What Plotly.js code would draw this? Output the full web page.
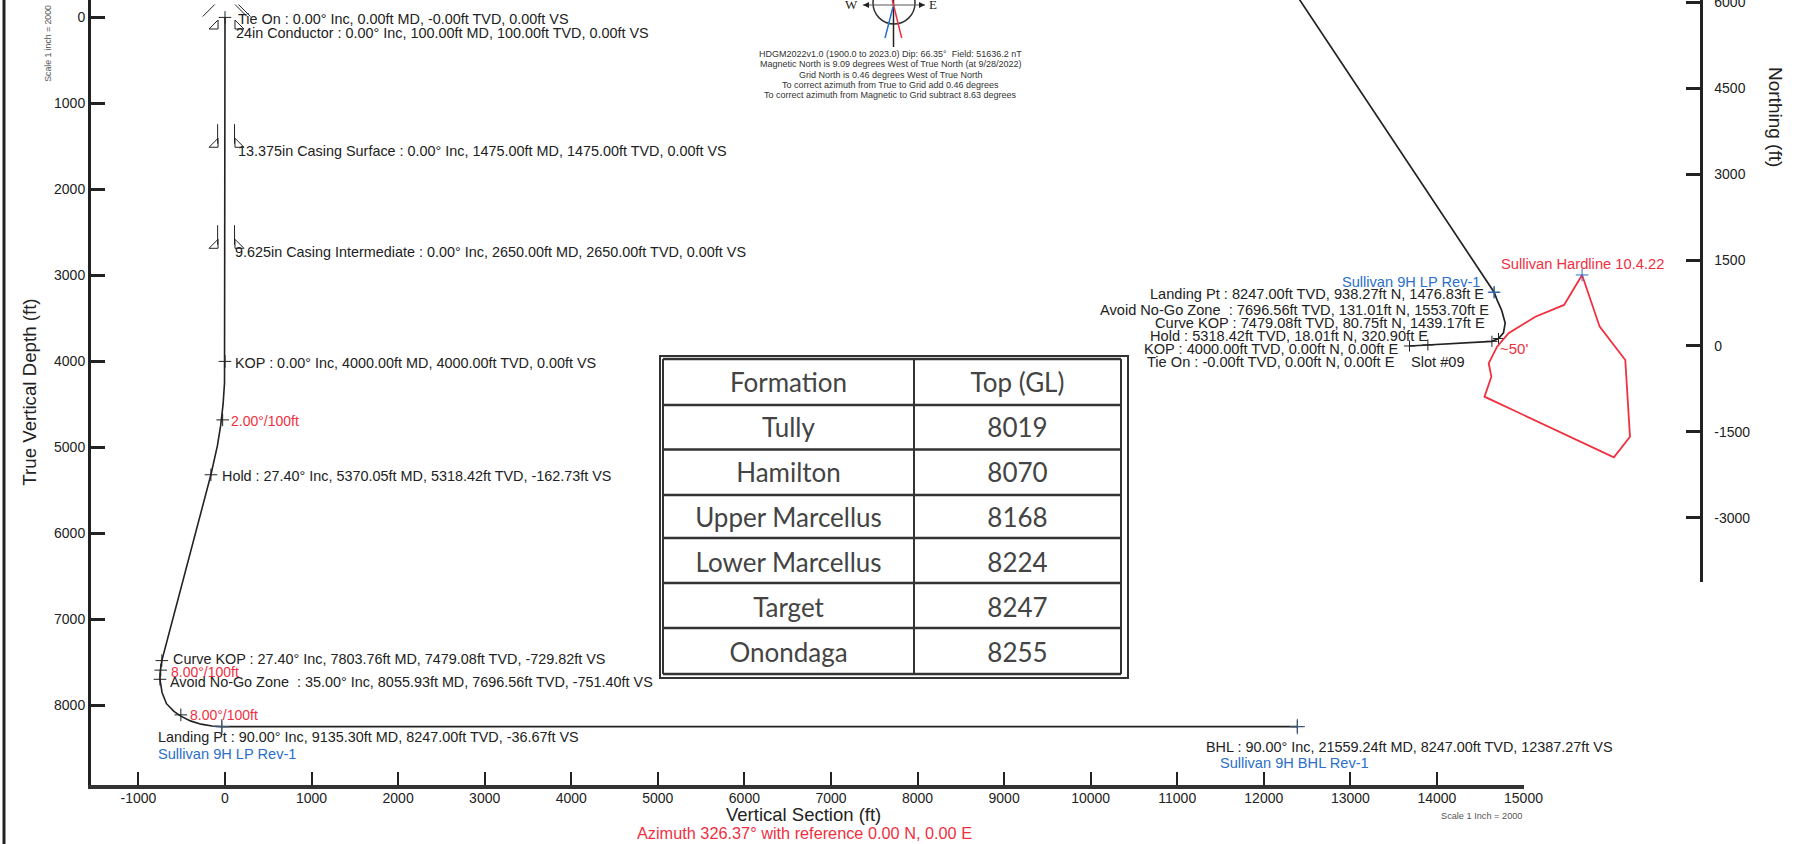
<!DOCTYPE html>
<html><head><meta charset="utf-8">
<script src="https://cdn.plot.ly/plotly-3.0.1.min.js"></script>
<style>html,body{margin:0;padding:0;background:#fff;overflow:hidden}#c{width:1801px;height:844px}</style>
</head><body><div id="c"></div>
<script>
// ---- Section view data (vertical section ft / TVD ft)
const pathVS  = [0,0,0,0,-5.5,-22,-49.4,-87.5,-162.73,-729.82,-748,-751.4,-727,-676,-590,-510,-400,-277,-150,-36.67,12387.27];
const pathTVD = [0,100,1475,2650,4250,4497.5,4741.5,4980,5318.42,7479.08,7600,7696.56,7850,7980,8070,8125,8180,8218,8240,8247,8247];
const stationVS  = [0,0,-162.73,-729.82,-751.4,-36.67,12387.27];
const stationTVD = [0,4000,5318.42,7479.08,7696.56,8247,8247];
const rateVS  = [-27,-742,-510];
const rateTVD = [4680,7590,8110];
const casingTVD = [1475,2650];
const conductorTVD = [100];
// ---- Plan view data (easting / northing ft)
const planE = [0,320.9,1439.17,1553.7,1640,1670,1610,1530,1476.83,-5403];
const planN = [0,18.01,80.75,131.01,230,400,620,800,938.27,11283];
const planStationE = [0,320.9,1439.17,1553.7,1476.83];
const planStationN = [0,18.01,80.75,131.01,938.27];
const hardE = [3012,3319,3766,3848,3567,1309,1429,1382,1529,1729,2197,2698,3012];
const hardN = [1239,337,-244,-1583,-1942,-885,-536,-302,-12,222,511,716,1239];
// ---- Axis ticks
const xTicks = [-1000,0,1000,2000,3000,4000,5000,6000,7000,8000,9000,10000,11000,12000,13000,14000,15000];
const yTicks = [0,1000,2000,3000,4000,5000,6000,7000,8000];
const nTicks = [-3000,-1500,0,1500,3000,4500,6000];
// ---- Formation table
const formations = ['Tully','Hamilton','Upper Marcellus','Lower Marcellus','Target','Onondaga'];
const formationTops = [8019,8070,8168,8224,8247,8255];
// ---- Labels
const sectionLabels = [
 ['Tie On : 0.00° Inc, 0.00ft MD, -0.00ft TVD, 0.00ft VS',0,0,11.5,-1.6],
 ['24in Conductor : 0.00° Inc, 100.00ft MD, 100.00ft TVD, 0.00ft VS',0,100,10.4,-6.7],
 ['13.375in Casing Surface : 0.00° Inc, 1475.00ft MD, 1475.00ft TVD, 0.00ft VS',0,1475,12,-6.8],
 ['9.625in Casing Intermediate : 0.00° Inc, 2650.00ft MD, 2650.00ft TVD, 0.00ft VS',0,2650,9,-6.4],
 ['KOP : 0.00° Inc, 4000.00ft MD, 4000.00ft TVD, 0.00ft VS',0,4000,9.2,-1.3],
 ['Hold : 27.40° Inc, 5370.05ft MD, 5318.42ft TVD, -162.73ft VS',-162.73,5318.42,10,-1.2],
 ['Curve KOP : 27.40° Inc, 7803.76ft MD, 7479.08ft TVD, -729.82ft VS',-729.82,7479.08,10.2,1.3],
 ['Avoid No-Go Zone  : 35.00° Inc, 8055.93ft MD, 7696.56ft TVD, -751.40ft VS',-751.4,7696.56,9.3,-3],
 ['Landing Pt : 90.00° Inc, 9135.30ft MD, 8247.00ft TVD, -36.67ft VS',-36.67,8247,-65,-10.7],
 ['BHL : 90.00° Inc, 21559.24ft MD, 8247.00ft TVD, 12387.27ft VS',12387.27,8247,-92.8,-20.1]
];
const sectionTargets = [['Sullivan 9H LP Rev-1',-36.67,8247,-65,-27.4],['Sullivan 9H BHL Rev-1',12387.27,8247,-78.4,-36.7]];
const rateLabels = [['2.00°/100ft',7,-1],['8.00°/100ft',9.2,-1.6],['8.00°/100ft',8.6,0]];
const planLabels = [
 ['Landing Pt : 8247.00ft TVD, 938.27ft N, 1476.83ft E',1476.83,938.27,-9.1,-1.8],
 ['Avoid No-Go Zone  : 7696.56ft TVD, 131.01ft N, 1553.70ft E',1553.7,131.01,-8.5,28.5],
 ['Curve KOP : 7479.08ft TVD, 80.75ft N, 1439.17ft E',1439.17,80.75,-6,18.7],
 ['Hold : 5318.42ft TVD, 18.01ft N, 320.90ft E',320.9,18.01,1.1,9.3],
 ['KOP : 4000.00ft TVD, 0.00ft N, 0.00ft E',0,0,-10,-2.7],
 ['Tie On : -0.00ft TVD, 0.00ft N, 0.00ft E',0,0,-13,-16]
];
const compassLines = ['HDGM2022v1.0 (1900.0 to 2023.0) Dip: 66.35°  Field: 51636.2 nT','Magnetic North is 9.09 degrees West of True North (at 9/28/2022)','Grid North is 0.46 degrees West of True North','To correct azimuth from True to Grid add 0.46 degrees','To correct azimuth from Magnetic to Grid subtract 8.63 degrees'];

const FONT='"Liberation Sans", Arial, sans-serif', INK='#222', RED='#f0303f', BLUE='#2a6fc9';
const W=1609,H=785,L=91;
const px=x=>(x-L)/W, py=y=>(H-y)/H;
const mk=(symbol,size,color)=>({symbol:symbol,size:size,color:color,line:{color:color,width:1}});
const NOLINE={color:'rgba(0,0,0,0)',width:0}, NOFILL={color:'rgba(0,0,0,0)'};

const traces=[
 {type:'table',domain:{x:[px(663),px(1121)],y:[py(679),py(364)]},columnwidth:[251,207],
  header:{values:['Formation','Top (GL)'],height:45,align:'center',fill:NOFILL,line:NOLINE,font:{family:'Lato',size:26,color:'#444'}},
  cells:{values:[formations,formationTops],height:45,align:'center',fill:NOFILL,line:NOLINE,font:{family:'Lato',size:26,color:'#444'}}},
 {x:pathVS,y:pathTVD,mode:'lines',line:{color:INK,width:1.6},hoverinfo:'skip'},
 {x:stationVS,y:stationTVD,mode:'markers',marker:mk('cross-thin-open',9,INK),hoverinfo:'skip'},
 {x:rateVS,y:rateTVD,mode:'markers',marker:mk('cross-thin-open',9,INK),hoverinfo:'skip'},
 {x:casingTVD.concat(conductorTVD).map(()=>-115),y:casingTVD.concat(conductorTVD),mode:'markers',marker:mk('triangle-se-open',10,INK),hoverinfo:'skip'},
 {x:casingTVD.concat(conductorTVD).map(()=>150),y:casingTVD.concat(conductorTVD),mode:'markers',marker:mk('triangle-sw-open',10,INK),hoverinfo:'skip'},
 {x:casingTVD.map(()=>-85),y:casingTVD.map(d=>d-120),mode:'markers',marker:mk('line-ns-open',14,INK),hoverinfo:'skip'},
 {x:casingTVD.map(()=>110),y:casingTVD.map(d=>d-120),mode:'markers',marker:mk('line-ns-open',14,INK),hoverinfo:'skip'},
 {x:[-188],y:[-80],mode:'markers',marker:mk('line-ne-open',12,INK),hoverinfo:'skip'},
 {x:[185,225],y:[-80,-80],mode:'markers',marker:mk('line-nw-open',12,INK),hoverinfo:'skip'},
 {x:[-36.67,12387.27],y:[8247,8247],mode:'markers',marker:mk('cross-thin-open',11,'#3a5a80'),hoverinfo:'skip'},
 {x:planE,y:planN,xaxis:'x2',yaxis:'y2',mode:'lines',line:{color:INK,width:1.7},hoverinfo:'skip'},
 {x:planStationE,y:planStationN,xaxis:'x2',yaxis:'y2',mode:'markers',marker:mk('cross-thin-open',8,INK),hoverinfo:'skip'},
 {x:[1476.83],y:[938.27],xaxis:'x2',yaxis:'y2',mode:'markers',marker:mk('cross-thin-open',9,BLUE),hoverinfo:'skip'},
 {x:hardE,y:hardN,xaxis:'x2',yaxis:'y2',mode:'lines',line:{color:RED,width:1.8},hoverinfo:'skip'},
 {x:[3012],y:[1239],xaxis:'x2',yaxis:'y2',mode:'markers',marker:mk('cross-thin-open',9,BLUE),hoverinfo:'skip'}
];

const LS=14.4, MS=14.6;
const txt=(t,o)=>Object.assign({text:t,showarrow:false,font:{family:FONT,size:LS,color:INK},borderpad:0},o);
const pap=(t,x,y,size,color,o)=>txt(t,Object.assign({xref:'paper',yref:'paper',x:px(x),y:py(y),xanchor:'center',yanchor:'middle',font:{family:FONT,size:size,color:color}},o||{}));
const annotations=[];
sectionLabels.forEach(l=>annotations.push(txt(l[0],{xref:'x',yref:'y',x:l[1],y:l[2],xshift:l[3],yshift:l[4],xanchor:'left',yanchor:'middle'})));
sectionTargets.forEach(l=>annotations.push(txt(l[0],{xref:'x',yref:'y',x:l[1],y:l[2],xshift:l[3],yshift:l[4],xanchor:'left',yanchor:'middle',font:{family:FONT,size:MS,color:BLUE}})));
rateLabels.forEach((l,i)=>annotations.push(txt(l[0],{xref:'x',yref:'y',x:rateVS[i],y:rateTVD[i],xshift:l[1],yshift:l[2],xanchor:'left',yanchor:'middle',font:{family:FONT,size:14,color:RED}})));
planLabels.forEach(l=>annotations.push(txt(l[0],{xref:'x2',yref:'y2',x:l[1],y:l[2],xshift:l[3],yshift:l[4],xanchor:'right',yanchor:'middle',font:{family:FONT,size:MS,color:INK}})));
annotations.push(txt('Sullivan 9H LP Rev-1',{xref:'x2',yref:'y2',x:1476.83,y:938.27,xshift:-13,yshift:9.9,xanchor:'right',yanchor:'middle',font:{family:FONT,size:MS,color:BLUE}}));
annotations.push(txt('Slot #09',{xref:'x2',yref:'y2',x:0,y:0,xshift:0.5,yshift:-16,xanchor:'left',yanchor:'middle',font:{family:FONT,size:MS,color:INK}}));
annotations.push(txt('Sullivan Hardline 10.4.22',{xref:'x2',yref:'y2',x:3012,y:1239,yshift:11,xanchor:'center',yanchor:'middle',font:{family:FONT,size:14.7,color:RED}}));
annotations.push(txt("~50'",{xref:'x2',yref:'y2',x:1529,y:-12,xshift:2,yshift:-2.3,xanchor:'left',yanchor:'middle',font:{family:FONT,size:15,color:RED}}));
compassLines.forEach((t,i)=>annotations.push(pap(t,890.3,[54.3,64.3,74.7,84.7,95][i],9,'#333')));
annotations.push(pap('W',851.7,5,13,'#222',{font:{family:'"Liberation Serif",serif',size:13,color:'#222'}}));
annotations.push(pap('E',933,5,13,'#222',{font:{family:'"Liberation Serif",serif',size:13,color:'#222'}}));
annotations.push(pap('True Vertical Depth (ft)',28.7,392,18.7,'#222',{textangle:-90}));
annotations.push(pap('Northing (ft)',1775,117,19,'#222',{textangle:90}));
annotations.push(pap('Vertical Section (ft)',803.7,814,18.5,'#222'));
annotations.push(pap('Azimuth 326.37° with reference 0.00 N, 0.00 E',804,833,16.3,RED));
annotations.push(pap('Scale 1 Inch = 2000',1481,816,9.2,'#555'));
annotations.push(pap('Scale 1 inch = 2000',47.7,43,8.7,'#555',{textangle:-90}));

const ln=(x0,y0,x1,y1,color,width,dash)=>({type:'line',xref:'paper',yref:'paper',x0:px(x0),y0:py(y0),x1:px(x1),y1:py(y1),line:{color:color,width:width,dash:dash||'solid'}});
const P=(x,y)=>px(x).toFixed(5)+','+py(y).toFixed(5);
const tableRows=[359,405,449.5,495,538,583,628,674];
const shapes=[
 ln(4,0,4,844,'#222',3),
 {type:'rect',xref:'paper',yref:'paper',x0:px(660),x1:px(1128),y0:py(678),y1:py(356),line:{color:'#333',width:2}},
 ln(663,359,663,674,'#333',2),
 ln(1121,359,1121,674,'#333',2),
 ln(914,359,914,674,'#333',2),
 ...tableRows.map(y=>ln(663,y,1121,y,'#333',2.5)),
 {type:'circle',xref:'paper',yref:'paper',x0:px(873),x1:px(915),y0:py(24),y1:py(-18),line:{color:'#333',width:1.5}},
 ln(863,5,925,5,'#555',1),
 ln(893.5,0,893.5,47,'#222',1.5),
 ln(892.3,0,901.7,38,RED,1.5),
 ln(893,7,885,38,BLUE,1.5),
 {type:'path',xref:'paper',yref:'paper',path:'M'+P(925,5)+' L'+P(919,2)+' L'+P(919,8)+' Z',fillcolor:'#222',line:{width:0}},
 {type:'path',xref:'paper',yref:'paper',path:'M'+P(863,5)+' L'+P(869,2)+' L'+P(869,8)+' Z',fillcolor:'#222',line:{width:0}}
];

const tickFont={family:FONT,size:14,color:'#222'};
const layout={
 width:1801,height:844,margin:{l:L,r:101,t:0,b:59},paper_bgcolor:'#fff',plot_bgcolor:'rgba(0,0,0,0)',showlegend:false,
 xaxis:{domain:[0,1432.5/W],range:[-1547.9,15000],anchor:'y',tickvals:xTicks,ticktext:xTicks.map(String),ticks:'inside',ticklen:13,tickwidth:2,tickcolor:'#222',showline:true,linewidth:4,linecolor:'#333',showgrid:false,zeroline:false,tickfont:tickFont,ticklabelstandoff:-3},
 yaxis:{domain:[0,1],range:[8925.6,-202.3],anchor:'x',tickvals:yTicks,ticktext:yTicks.map(String),ticks:'inside',ticklen:14,tickwidth:3,tickcolor:'#222',showline:true,linewidth:3,linecolor:'#222',showgrid:false,zeroline:false,tickfont:tickFont},
 xaxis2:{domain:[0,1],range:[-23010,5070],anchor:'y2',visible:false,showgrid:false,zeroline:false},
 yaxis2:{domain:[(785-582)/785,1],range:[-4119,6038],anchor:'x2',side:'right',tickvals:nTicks,ticktext:nTicks.map(String),ticks:'inside',ticklen:14,tickwidth:3,tickcolor:'#222',showline:true,linewidth:2.5,linecolor:'#222',showgrid:false,zeroline:false,tickfont:tickFont,ticklabelstandoff:9,ticklabeloverflow:'allow'},
 annotations:annotations,shapes:shapes
};
Plotly.newPlot('c',traces,layout,{staticPlot:true,displayModeBar:false});
</script></body></html>
